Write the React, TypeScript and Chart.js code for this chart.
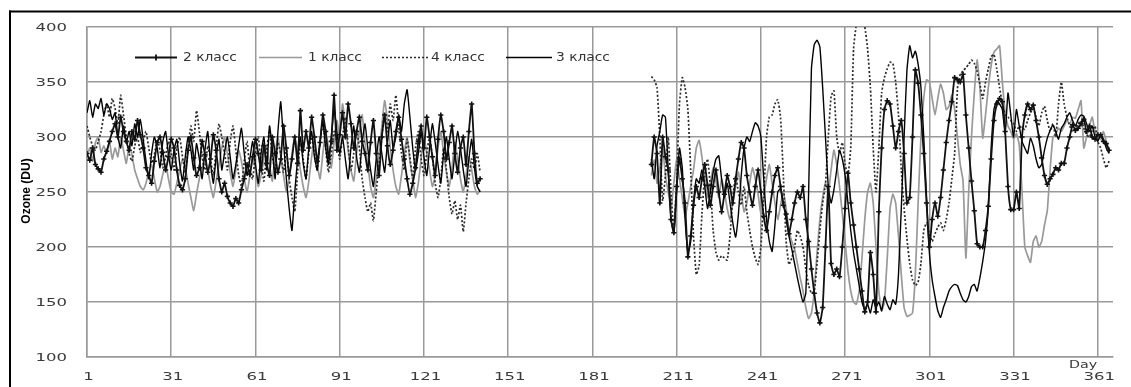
import { useEffect, useRef } from "react";
import { Chart, registerables } from "chart.js";

Chart.register(...registerables);

const leftStart = 1;
const rightStart = 202;
const xTickValues = [1, 31, 61, 91, 121, 151, 181, 211, 241, 271, 301, 331, 361];
const yTickValues = [100, 150, 200, 250, 300, 350, 400];
const seriesNames = ["2 класс", "1 класс", "4 класс", "3 класс"];
const xAxisLabel = "Day";
const yAxisLabel = "Ozone (DU)";

const class2Left = [
  285, 279, 290, 275, 271, 268, 280, 287, 296, 305,
  312, 300, 318, 305, 296, 288, 305, 298, 315, 302,
  290, 272, 265, 258, 278, 295, 300, 286, 270, 282,
  298, 290, 270, 256, 252, 262, 288, 300, 281, 265,
  272, 296, 284, 268, 280, 302, 288, 262, 250, 258,
  246, 240, 237, 244, 240, 252, 262, 275, 266, 282,
  298, 285, 270, 292, 276, 265, 300, 285, 268, 280,
  310, 290, 265, 280, 300, 276, 324, 288, 305, 290,
  318, 300, 278, 295, 320, 305, 282, 296, 338, 288,
  302, 322, 300, 330, 312, 290, 305, 318, 296, 285,
  270, 295, 315, 285, 265, 300, 320, 292, 275, 288,
  305, 318, 298, 280, 262, 248, 258, 272, 296, 310,
  290, 318, 300, 282, 265, 298, 320, 305, 280, 295,
  310, 285, 268, 290, 300, 275, 305, 330, 285, 258, 262,
];
const class2Right = [
  275, 300, 285, 240, 300, 282, 270, 225, 213, 255,
  280, 262, 240, 191, 210, 238, 255, 245, 262, 275,
  256, 238, 255, 270, 250, 232, 248, 265, 255, 240,
  262, 280, 295, 290, 265, 250, 238, 255, 270, 250,
  228, 215, 232, 250, 265, 272, 255, 238, 230, 212,
  225, 240, 250, 245, 255, 225, 205, 180, 158, 140,
  131, 145, 200, 255, 185, 175, 180, 173, 200, 235,
  267, 240, 220, 200, 180, 160, 141, 150, 195, 175,
  141, 232, 290, 325, 333, 330, 310, 290, 305, 315,
  285, 240, 245, 300, 361, 349, 320, 285, 240, 200,
  225, 240, 228, 245, 270, 295, 315, 332, 354, 352,
  350, 357, 320, 290, 260, 233, 203, 200, 200, 215,
  237, 280, 315, 330, 335, 332, 305, 255, 234, 234,
  250, 235, 300, 320, 330, 325, 329, 315, 300, 281,
  265, 257, 262, 266, 272, 270, 276, 276, 290, 300,
  311, 306, 308, 312, 316, 305, 310, 300, 298, 302,
  302, 296, 294, 288,
];

const class1Left = [
  283, 290, 278, 295, 300, 286, 292, 285, 296, 280,
  290, 282, 300, 288, 276, 292, 284, 270, 262, 255,
  252, 258, 268, 275, 262, 250, 255, 266, 275, 262,
  250, 248, 258, 270, 280, 272, 258, 245, 233, 248,
  262, 272, 283, 270, 256, 245, 260, 275, 290, 300,
  285, 268, 255, 270, 288, 278, 262, 250, 265, 282,
  270, 255, 265, 280, 292, 275, 260, 285, 300, 282,
  265, 250, 262, 285, 300, 288, 270, 255, 245, 260,
  282, 298, 275, 262, 285, 305, 290, 272, 295, 315,
  300, 330, 312, 288, 270, 260, 285, 305, 320, 295,
  275, 255, 245, 262, 285, 310, 333, 315, 290, 270,
  255, 248, 265, 285, 300, 278, 262, 245, 258, 280,
  300, 285, 270, 255, 265, 290, 305, 285, 268, 255,
  272, 295, 280, 262, 250, 265, 282, 270, 255, 248, 252,
];
const class1Right = [
  265, 279, 258, 272, 290, 265, 250, 235, 258, 280,
  262, 245, 228, 240, 255, 270, 290, 297, 282, 262,
  245, 258, 272, 260, 245, 262, 250, 235, 225, 240,
  255, 268, 250, 232, 240, 258, 272, 262, 248, 230,
  245, 262, 275, 258, 240, 225, 238, 250, 235, 215,
  205, 198, 185, 172, 160, 145, 135, 140, 160, 195,
  225, 245, 258, 250, 270, 288, 275, 255, 230, 205,
  178, 160, 150, 148, 160, 190, 225, 250, 258, 240,
  200, 160, 142, 150, 190, 235, 248, 240, 210, 175,
  145, 137, 138, 140, 175, 240, 300, 335, 352, 350,
  335, 320, 335, 348, 340, 325, 328, 338, 325, 300,
  275, 260, 190, 250, 300, 340, 370, 345, 299, 320,
  345, 365, 377, 380, 383, 350, 322, 310, 305, 298,
  303, 293, 250, 200, 192, 186, 205, 210, 200, 205,
  220, 233, 270, 300, 303, 308, 305, 310, 315, 312,
  318, 317, 325, 333, 290, 300, 310, 318, 305, 300,
  298, 305, 296, 286,
];

const class4Left = [
  310, 300, 292, 288, 296, 305, 320, 330, 318, 335,
  326, 312, 338, 320, 300, 285, 278, 292, 300, 286,
  296, 305, 290, 276, 284, 298, 288, 272, 282, 296,
  285, 270, 290, 300, 282, 268, 290, 310, 296, 324,
  305, 282, 270, 292, 280, 265, 290, 312, 300, 285,
  270, 296, 310, 288, 266, 255, 278, 296, 270, 262,
  285, 300, 276, 260, 288, 306, 282, 270, 295, 285,
  268, 290, 262, 245, 232, 268, 295, 280, 262, 286,
  300, 285, 270, 296, 312, 290, 268, 284, 305, 296,
  280, 300, 318, 292, 270, 285, 306, 290, 262, 245,
  232, 240, 224, 250, 275, 300, 322, 305, 330, 315,
  338, 310, 285, 270, 298, 282, 262, 290, 305, 280,
  265, 285, 300, 282, 258, 245, 262, 290, 270, 245,
  230, 242, 225, 238, 214, 240, 262, 280, 270, 285, 268,
];
const class4Right = [
  355, 352, 345, 300, 242, 265, 300, 250, 215, 260,
  330, 354, 345, 325, 270, 210, 175, 183, 230, 265,
  280, 255, 215, 195, 188, 192, 190, 188, 210, 245,
  264, 250, 238, 255, 232, 215, 200, 190, 184, 200,
  245, 300, 318, 320, 330, 334, 318, 265, 205, 184,
  190, 200, 215, 210, 200, 180, 165, 158, 160, 185,
  215, 240, 257, 300, 337, 342, 300, 285, 295, 275,
  265, 290, 380, 402, 405, 403, 400, 380, 345, 290,
  250, 290, 340, 354, 362, 368, 367, 350, 320, 270,
  235, 208, 185, 170, 165, 168, 185, 215, 222, 212,
  205, 212, 218, 222, 215, 225, 240, 262, 285, 344,
  357, 360, 363, 366, 370, 367, 360, 348, 335, 350,
  362, 373, 375, 362, 345, 330, 320, 318, 315, 312,
  305, 310, 308, 307, 315, 322, 326, 318, 310, 322,
  328, 315, 305, 312, 300, 330, 350, 330, 318, 310,
  305, 308, 312, 315, 308, 302, 300, 306, 310, 296,
  290, 280, 272, 278,
];

const class3Left = [
  322, 333, 318, 330, 326, 335, 320, 330, 326, 316,
  322, 300, 290, 310, 295, 305, 292, 312, 300, 316,
  298, 278, 262, 285, 300, 290, 272, 296, 305, 284,
  270, 288, 298, 276, 260, 282, 300, 288, 270, 294,
  280, 262, 288, 305, 276, 258, 282, 298, 270, 286,
  300, 282, 262, 275, 292, 308, 285, 265, 280, 296,
  275, 258, 285, 300, 270, 310, 290, 262, 305, 332,
  295, 262, 235, 215, 250, 280, 300, 276, 262, 290,
  305, 282, 270, 296, 315, 290, 275, 300, 325, 305,
  285, 300, 280, 262, 290, 310, 282, 268, 295, 312,
  290, 270, 255, 280, 300, 285, 268, 295, 315, 290,
  300, 320, 305, 330, 343, 318, 290, 270, 285, 305,
  282, 265, 290, 312, 295, 275, 258, 285, 300, 280,
  262, 285, 305, 290, 270, 255, 280, 298, 272, 255, 250,
];
const class3Right = [
  280, 262, 292, 305, 320, 318, 270, 225, 213, 250,
  290, 272, 225, 195, 205, 240, 262, 258, 270, 255,
  235, 250, 268, 280, 283, 262, 245, 258, 240, 222,
  209, 230, 265, 290, 300, 296, 305, 313, 310, 300,
  262, 225, 205, 196, 220, 250, 253, 240, 225, 210,
  198, 185, 172, 160, 150, 158, 250, 362, 384, 388,
  382, 345, 300, 255, 240, 252, 270, 288, 280, 265,
  240, 215, 195, 180, 165, 150, 143, 148, 140, 152,
  145, 150, 142, 155, 148, 143, 152, 148, 175, 235,
  300, 360, 383, 372, 378, 366, 345, 300, 245, 195,
  170, 155, 142, 136, 145, 152, 160, 164, 166, 165,
  158, 152, 150, 155, 164, 166, 160, 172, 187, 205,
  236, 290, 325, 333, 330, 325, 303, 340, 320, 300,
  325, 310, 296, 290, 285, 299, 292, 280, 272, 275,
  288, 299, 306, 311, 305, 298, 308, 312, 318, 322,
  315, 310, 316, 320, 319, 312, 305, 310, 300, 296,
  302, 298, 290, 285,
];

function toPoints(left: number[], right: number[]) {
  const pts: { x: number; y: number | null }[] = [];
  left.forEach((v, i) => pts.push({ x: leftStart + i, y: v }));
  pts.push({ x: (leftStart + left.length + rightStart) / 2, y: null });
  right.forEach((v, i) => pts.push({ x: rightStart + i, y: v }));
  return pts;
}

function drawStretched(
  ctx: CanvasRenderingContext2D,
  text: string,
  x: number,
  y: number,
  sx: number,
  align: CanvasTextAlign
) {
  ctx.save();
  ctx.translate(x, y);
  ctx.scale(sx, 1);
  ctx.textAlign = align;
  ctx.fillText(text, 0, 0);
  ctx.restore();
}

const overlayPlugin = {
  id: "overlay",
  afterDraw(chart: any) {
    const ctx: CanvasRenderingContext2D = chart.ctx;
    const xs = chart.scales.x;
    const ys = chart.scales.y;
    ctx.save();
    ctx.fillStyle = "#000";
    ctx.fillRect(9, 10.5, 1131 - 9, 2);
    ctx.fillRect(9, 10.5, 2, 387);

    ctx.fillStyle = "#3a3a3a";
    ctx.textBaseline = "middle";
    ctx.font = '11px "DejaVu Sans"';
    for (const v of yTickValues) {
      drawStretched(ctx, String(v), 67, ys.getPixelForValue(v) + 1.5, 1.5, "right");
    }
    for (const v of xTickValues) {
      drawStretched(ctx, String(v), xs.getPixelForValue(v) + 1.5, 377, 1.5, "center");
    }
    drawStretched(ctx, xAxisLabel, 1083, 365, 1.3, "center");

    ctx.save();
    ctx.translate(27, 191);
    ctx.rotate(-Math.PI / 2);
    ctx.font = 'bold 12px "Liberation Sans Narrow", "Liberation Sans"';
    ctx.fillStyle = "#000";
    ctx.textAlign = "center";
    ctx.fillText(yAxisLabel, 0, 0);
    ctx.restore();

    const ly = 57.5;
    const items = [
      { x0: 135, x1: 177, tx: 183, color: "#111", width: 1.8, dash: [] as number[], marker: true },
      { x0: 259, x1: 302, tx: 308, color: "#999", width: 1.6, dash: [] as number[], marker: false },
      { x0: 382, x1: 430, tx: 431, color: "#2a2a2a", width: 1.6, dash: [2, 2], marker: false },
      { x0: 506, x1: 552, tx: 556, color: "#000", width: 1.4, dash: [] as number[], marker: false },
    ];
    items.forEach((it, i) => {
      ctx.save();
      ctx.strokeStyle = it.color;
      ctx.lineWidth = it.width;
      ctx.setLineDash(it.dash);
      ctx.beginPath();
      ctx.moveTo(it.x0, ly);
      ctx.lineTo(it.x1, ly);
      ctx.stroke();
      if (it.marker) {
        ctx.setLineDash([]);
        ctx.beginPath();
        const mx = (it.x0 + it.x1) / 2;
        ctx.moveTo(mx, ly - 3);
        ctx.lineTo(mx, ly + 3);
        ctx.stroke();
      }
      ctx.restore();
      ctx.fillStyle = "#333";
      ctx.font = '12px "DejaVu Sans"';
      ctx.textBaseline = "middle";
      drawStretched(ctx, seriesNames[i], it.tx, ly + 0.5, 1.15, "left");
    });
    ctx.restore();
  },
};

export default function App() {
  const canvasRef = useRef<HTMLCanvasElement | null>(null);

  useEffect(() => {
    if (!canvasRef.current) return;
    const gridColor = "#999";
    const chart = new Chart(canvasRef.current, {
      type: "line",
      data: {
        datasets: [
          {
            label: seriesNames[0],
            data: toPoints(class2Left, class2Right),
            borderColor: "#111",
            borderWidth: 1.8,
            pointStyle: "cross",
            pointRadius: 2.6,
            pointBorderWidth: 1.6,
            pointBorderColor: "#111",
            pointBackgroundColor: "#111",
            spanGaps: false,
          },
          {
            label: seriesNames[3],
            data: toPoints(class3Left, class3Right),
            borderColor: "#000",
            borderWidth: 1.4,
            pointRadius: 0,
            spanGaps: false,
          },
          {
            label: seriesNames[2],
            data: toPoints(class4Left, class4Right),
            borderColor: "#2a2a2a",
            borderWidth: 1.7,
            borderDash: [2, 2],
            pointRadius: 0,
            spanGaps: false,
          },
          {
            label: seriesNames[1],
            data: toPoints(class1Left, class1Right),
            borderColor: "#999",
            borderWidth: 1.7,
            pointRadius: 0,
            spanGaps: false,
          },
        ],
      },
      options: {
        animation: false,
        responsive: false,
        events: [],
        devicePixelRatio: 1,
        layout: { padding: { left: 87, right: 18, top: 27, bottom: 30 } },
        plugins: {
          legend: { display: false },
          tooltip: { enabled: false },
        },
        elements: { line: { tension: 0.15 } },
        scales: {
          x: {
            type: "linear",
            min: 1,
            max: 366.4,
            afterBuildTicks: (scale: any) => {
              scale.ticks = xTickValues.map((value) => ({ value }));
            },
            afterFit: (scale: any) => {
              scale.height = 0;
            },
            ticks: { display: false },
            grid: { color: gridColor, lineWidth: 1.5, drawTicks: false },
            border: { color: gridColor, width: 1.5 },
          },
          y: {
            type: "linear",
            min: 100,
            max: 400,
            afterBuildTicks: (scale: any) => {
              scale.ticks = yTickValues.map((value) => ({ value }));
            },
            afterFit: (scale: any) => {
              scale.width = 0;
            },
            ticks: { display: false },
            grid: { color: gridColor, lineWidth: 1.5, drawTicks: false },
            border: { color: gridColor, width: 1.5 },
          },
        },
      },
      plugins: [overlayPlugin],
    });
    return () => chart.destroy();
  }, []);

  return (
    <div style={{ position: "fixed", left: 0, top: 0, width: 1131, height: 387, background: "#fff" }}>
      <canvas ref={canvasRef} width={1131} height={387} style={{ width: 1131, height: 387, display: "block" }} />
    </div>
  );
}
